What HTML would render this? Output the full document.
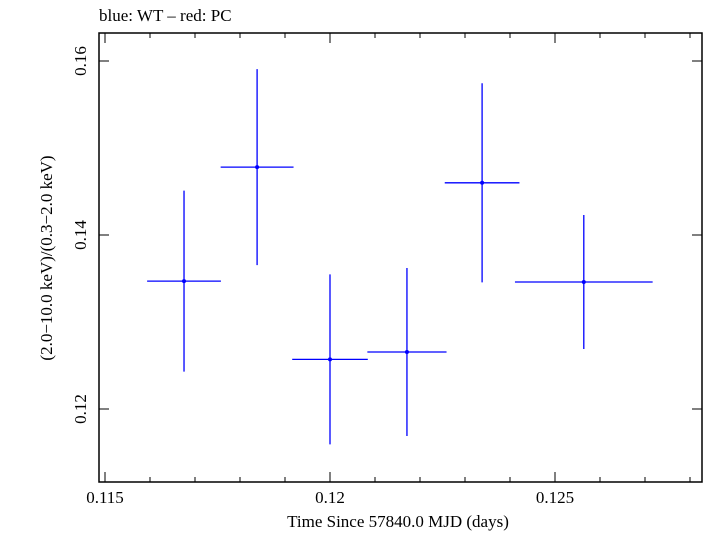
<!DOCTYPE html>
<html><head><meta charset="utf-8"><style>
body{margin:0;background:#fff;}
svg text{font-family:"Liberation Serif",serif;fill:#000;}
</style></head><body>
<svg id="chart" width="705" height="532" xmlns="http://www.w3.org/2000/svg">
<text x="99" y="21" font-size="17">blue: WT – red: PC</text>
<rect x="99" y="33" width="603" height="449" fill="none" stroke="#000" stroke-width="1.5"/>
<g id="axes"></g>
<g id="marks"></g>
<text x="398" y="527" font-size="17" text-anchor="middle">Time Since 57840.0 MJD (days)</text>
<text transform="translate(52,258) rotate(-90)" font-size="17" text-anchor="middle">(2.0−10.0 keV)/(0.3−2.0 keV)</text>
</svg>
<script>
const xVals=[0.116756,0.11838,0.12,0.12171,0.12338,0.12564];
const xErrs=[0.00082,0.00081,0.00084,0.00088,0.00083,0.00153];
const yVals=[0.1347,0.1478,0.1257,0.12655,0.146,0.1346];
const yErrs=[0.0104,0.01126,0.00977,0.00966,0.01144,0.0077];
const xTicks=[0.115,0.12,0.125];
const xTickLabels=["0.115","0.12","0.125"];
const yTicks=[0.12,0.14,0.16];
const yTickLabels=["0.12","0.14","0.16"];
const NS="http://www.w3.org/2000/svg";
const L=99,R=702,T=33,B=482;
function sx(v){return 105+(v-0.115)*45000;}
function sy(v){return 235-(v-0.14)*8700;}
const axes=document.getElementById('axes'),marks=document.getElementById('marks');
function line(p,x1,y1,x2,y2,c,w){const l=document.createElementNS(NS,'line');l.setAttribute('x1',x1);l.setAttribute('y1',y1);l.setAttribute('x2',x2);l.setAttribute('y2',y2);l.setAttribute('stroke',c);l.setAttribute('stroke-width',w);p.appendChild(l);return l;}
for(let i=0;i<14;i++){const v=0.115+i*0.001;const x=sx(v);if(x>R)break;const major=i%5===0;const len=major?10:5;
const a=line(axes,x,B,x,B-len,'#000',1);


const b=line(axes,x,T,x,T+len,'#000',1);

}
xTicks.forEach((v,i)=>{const t=document.createElementNS(NS,'text');t.setAttribute('x',sx(v));t.setAttribute('y',503);t.setAttribute('font-size','17');t.setAttribute('text-anchor','middle');t.textContent=xTickLabels[i];


axes.appendChild(t);});
yTicks.forEach((v,i)=>{const y=sy(v);
const a=line(axes,L,y,L+10,y,'#000',1);


const b=line(axes,R,y,R-10,y,'#000',1);


const t=document.createElementNS(NS,'text');t.setAttribute('transform','translate(86,'+y+') rotate(-90)');t.setAttribute('font-size','17');t.setAttribute('text-anchor','middle');t.textContent=yTickLabels[i];


axes.appendChild(t);});
xVals.forEach((xv,i)=>{const g=document.createElementNS(NS,'g');


const x=sx(xv),y=sy(yVals[i]);
line(g,sx(xv-xErrs[i]),y,sx(xv+xErrs[i]),y,'#0000ff',1.3);
line(g,x,sy(yVals[i]+yErrs[i]),x,sy(yVals[i]-yErrs[i]),'#0000ff',1.3);
const c=document.createElementNS(NS,'circle');c.setAttribute('cx',x);c.setAttribute('cy',y);c.setAttribute('r',2);c.setAttribute('fill','#0000ff');g.appendChild(c);
marks.appendChild(g);});
</script>
</body></html>
